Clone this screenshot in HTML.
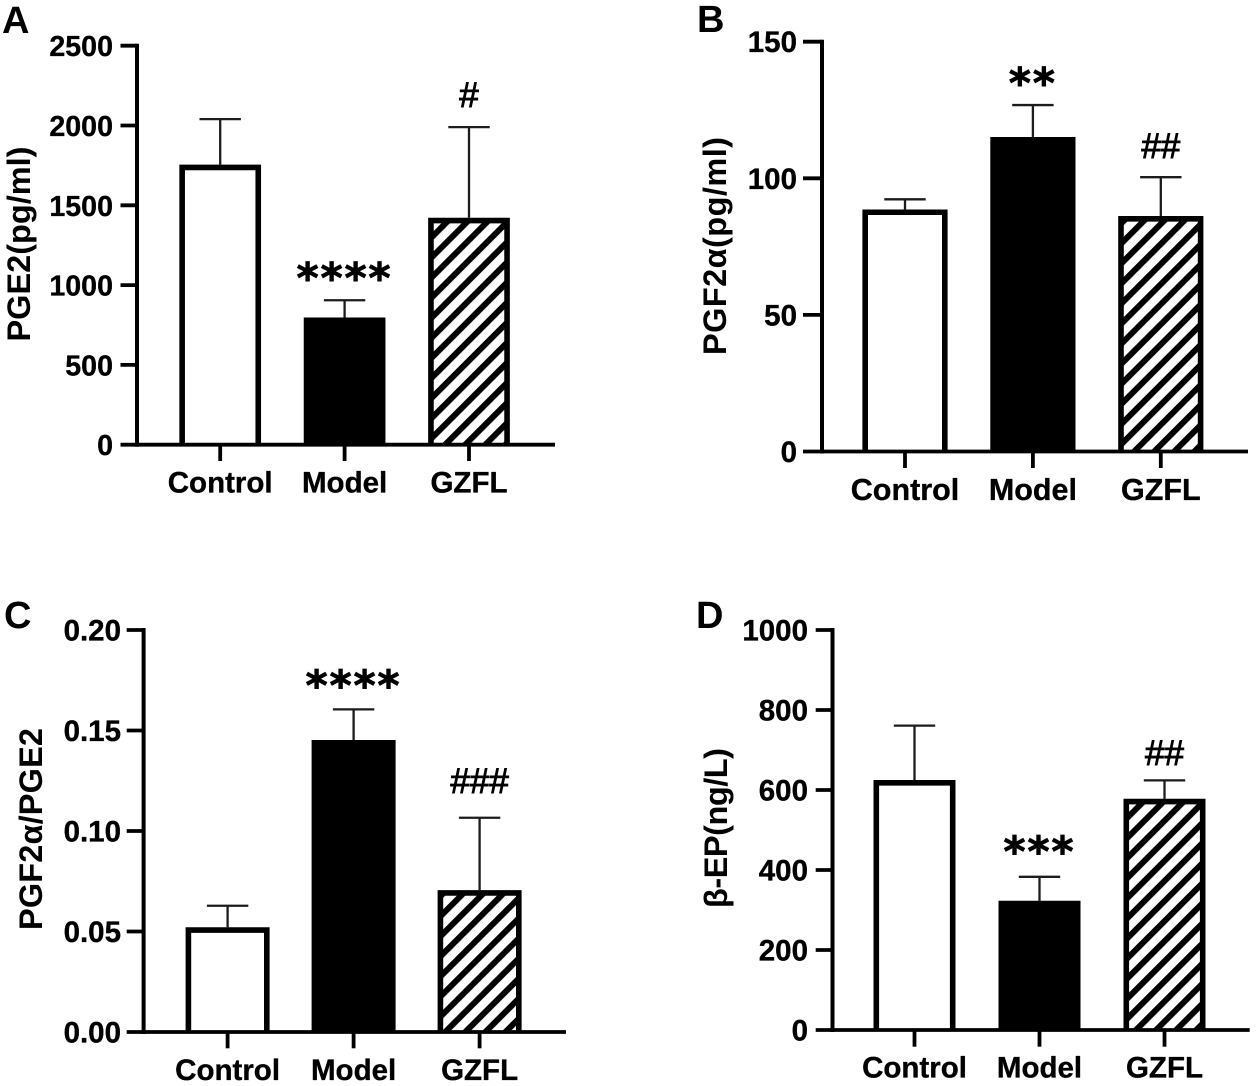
<!DOCTYPE html>
<html>
<head>
<meta charset="utf-8">
<title>Prostaglandin and beta-endorphin bar charts</title>
<style>
html,body{margin:0;padding:0;background:#fff;}
#figure{display:block;width:1258px;height:1086px;filter:blur(0.35px);}
text{font-family:"Liberation Sans",Arial,sans-serif;font-weight:700;fill:#000;}
</style>
</head>
<body>
<svg id="figure" xmlns="http://www.w3.org/2000/svg" width="1258" height="1086" viewBox="0 0 1258 1086">
  <defs>
    <pattern id="hatch-a" patternUnits="userSpaceOnUse" width="14.2" height="14.2" patternTransform="translate(2 0) rotate(45)"><rect width="14.2" height="14.2" fill="#fff"/><rect width="6" height="14.2" fill="#000"/></pattern>
    <pattern id="hatch-b" patternUnits="userSpaceOnUse" width="14.2" height="14.2" patternTransform="translate(15 0) rotate(45)"><rect width="14.2" height="14.2" fill="#fff"/><rect width="6" height="14.2" fill="#000"/></pattern>
    <pattern id="hatch-c" patternUnits="userSpaceOnUse" width="14.2" height="14.2" patternTransform="translate(7 0) rotate(45)"><rect width="14.2" height="14.2" fill="#fff"/><rect width="6" height="14.2" fill="#000"/></pattern>
    <pattern id="hatch-d" patternUnits="userSpaceOnUse" width="14.2" height="14.2" patternTransform="translate(13 0) rotate(45)"><rect width="14.2" height="14.2" fill="#fff"/><rect width="6" height="14.2" fill="#000"/></pattern>
  </defs>
</svg>
<script>
const categories = ['Control', 'Model', 'GZFL'];

const valuesA = [1755, 797, 1422];
const errorTopsA = [2040, 905, 1990];
const ticksA = [0, 500, 1000, 1500, 2000, 2500];
const tickLabelsA = ['0', '500', '1000', '1500', '2000', '2500'];
const marksA = ['', '****', '#'];

const valuesB = [88.6, 115.1, 86.2];
const errorTopsB = [92.3, 126.8, 100.4];
const ticksB = [0, 50, 100, 150];
const tickLabelsB = ['0', '50', '100', '150'];
const marksB = ['', '**', '##'];

const valuesC = [0.0521, 0.1453, 0.0706];
const errorTopsC = [0.0628, 0.1605, 0.1066];
const ticksC = [0, 0.05, 0.10, 0.15, 0.20];
const tickLabelsC = ['0.00', '0.05', '0.10', '0.15', '0.20'];
const marksC = ['', '****', '###'];

const valuesD = [625, 323, 578];
const errorTopsD = [761, 383, 624];
const ticksD = [0, 200, 400, 600, 800, 1000];
const tickLabelsD = ['0', '200', '400', '600', '800', '1000'];
const marksD = ['', '***', '##'];

const panels = [
  {id:'a', letter:'A', letterX:2, letterY:33, title:'PGE2(pg/ml)', titleX:30, titleMid:244, titleLen:195,
   values:valuesA, errors:errorTopsA, ticks:ticksA, labels:tickLabelsA, marks:marksA, max:2500,
   axisX:137, top:45.7, base:444.7, tickLeft:120.5, tickBottom:461, axisEnd:555, labelRight:113,
   first:220.2, step:124.4, barW:81.7, catY:492.7, catFont:29.5, tickFont:28.6, starGap:27.8, hashGap:20},
  {id:'b', letter:'B', letterX:697, letterY:32, title:'PGF2α(pg/ml)', titleX:726, titleMid:246, titleLen:218,
   values:valuesB, errors:errorTopsB, ticks:ticksB, labels:tickLabelsB, marks:marksB, max:150,
   axisX:822, top:41.7, base:451.5, tickLeft:803, tickBottom:468, axisEnd:1248, labelRight:797,
   first:905, step:127.9, barW:85.2, catY:500, catFont:30.5, tickFont:29.5, starGap:27.5, hashGap:19},
  {id:'c', letter:'C', letterX:4, letterY:628, title:'PGF2α/PGE2', titleX:42, titleMid:829, titleLen:202,
   values:valuesC, errors:errorTopsC, ticks:ticksC, labels:tickLabelsC, marks:marksC, max:0.2,
   axisX:143.6, top:630, base:1032, tickLeft:126.7, tickBottom:1048.3, axisEnd:566, labelRight:121,
   first:227.6, step:126, barW:84, catY:1080, catFont:29.5, tickFont:29.5, starGap:29.5, hashGap:24.5},
  {id:'d', letter:'D', letterX:696, letterY:628, title:'β-EP(ng/L)', titleX:727, titleMid:828, titleLen:160,
   values:valuesD, errors:errorTopsD, ticks:ticksD, labels:tickLabelsD, marks:marksD, max:1000,
   axisX:832.5, top:630, base:1030, tickLeft:815.7, tickBottom:1046.7, axisEnd:1249.7, labelRight:808,
   first:914.5, step:125, barW:82, catY:1077.3, catFont:29.5, tickFont:29.5, starGap:30.6, hashGap:15.5}
];

const NS = 'http://www.w3.org/2000/svg';
const svg = document.getElementById('figure');

function make(tag, attrs, parent, content) {
  const el = document.createElementNS(NS, tag);
  for (const k in attrs) el.setAttribute(k, attrs[k]);
  if (content !== undefined) el.textContent = content;
  parent.appendChild(el);
  return el;
}

panels.forEach(function (p) {
  const yScale = function (v) { return p.base - (v / p.max) * (p.base - p.top); };
  const xScale = function (i) { return p.first + i * p.step; };

  const g = make('g', {}, svg);
  
  

  const letter = make('text', {x:p.letterX, y:p.letterY, 'font-size':38}, g, p.letter);
  
  

  const title = make('text', {
    transform:'translate(' + p.titleX + ' ' + p.titleMid + ') rotate(-90)',
    'text-anchor':'middle', 'font-size':32.5, textLength:p.titleLen, lengthAdjust:'spacing'
  }, g, p.title);
  
  

  p.values.forEach(function (v, i) {
    const cx = xScale(i);
    const topY = yScale(v);
    const capY = yScale(p.errors[i]);
    const capHalf = 20.7;

    const stem = make('line', {x1:cx, x2:cx, y1:topY, y2:capY, stroke:'#1c1c1c', 'stroke-width':2.3}, g);
    
    

    const cap = make('line', {x1:cx - capHalf, x2:cx + capHalf, y1:capY, y2:capY, stroke:'#1c1c1c', 'stroke-width':2.3}, g);
    
    

    const sw = 5.6;
    const fill = i === 0 ? '#fff' : (i === 1 ? '#000' : 'url(#hatch-' + p.id + ')');
    const left = cx - p.barW / 2 + sw / 2;
    const right = cx + p.barW / 2 - sw / 2;
    const bar = make('path', {
      d:'M' + left + ' ' + p.base + 'V' + (topY + sw / 2) + 'H' + right + 'V' + p.base,
      fill:fill, stroke:'#000', 'stroke-width':sw
    }, g);
    
    

    const tick = make('line', {x1:cx, x2:cx, y1:p.base, y2:p.tickBottom, stroke:'#000', 'stroke-width':3.8}, g);
    
    

    const cat = make('text', {x:cx, y:p.catY, 'text-anchor':'middle', 'font-size':p.catFont, stroke:'#000', 'stroke-width':0.35}, g, categories[i]);
    
    

    const mark = p.marks[i];
    if (mark) {
      const isStar = mark.charAt(0) === '*';
      let m;
      if (isStar) {
        m = make('text', {x:cx, y:capY - p.starGap + 20, 'text-anchor':'middle', 'font-size':42, 'letter-spacing':2, stroke:'#000', 'stroke-width':0.9, style:'font-family:"DejaVu Sans",sans-serif;font-weight:700'}, g, mark);
      } else {
        m = make('text', {x:cx, y:capY - p.hashGap, 'text-anchor':'middle', 'font-size':35, stroke:'#000', 'stroke-width':0.9, style:'font-weight:400'}, g, mark);
      }
      
      
    }
  });

  const yAxis = make('line', {x1:p.axisX, x2:p.axisX, y1:p.top - 2, y2:p.base + 2, stroke:'#000', 'stroke-width':4}, g);
  
  

  const xAxis = make('line', {x1:p.axisX, x2:p.axisEnd, y1:p.base, y2:p.base, stroke:'#000', 'stroke-width':3.8}, g);
  
  

  p.ticks.forEach(function (t, i) {
    const y = yScale(t);
    const tick = make('line', {x1:p.tickLeft, x2:p.axisX, y1:y, y2:y, stroke:'#000', 'stroke-width':3.8}, g);
    
    

    const label = make('text', {x:p.labelRight, y:y + 10.5, 'text-anchor':'end', 'font-size':p.tickFont, stroke:'#000', 'stroke-width':0.35}, g, p.labels[i]);
    
    
  });
});
</script>
</body>
</html>
